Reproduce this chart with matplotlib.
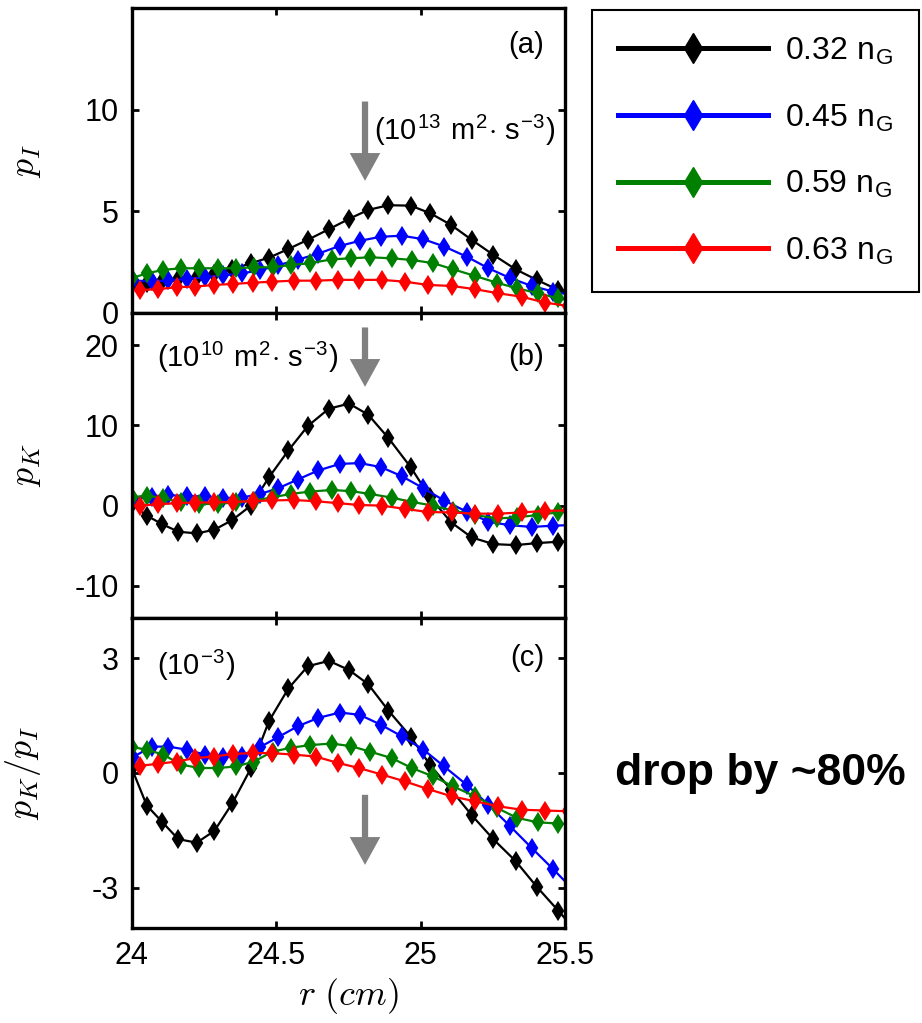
import matplotlib
matplotlib.use("Agg")
import matplotlib.pyplot as plt
from matplotlib.lines import Line2D

plt.rcParams['font.family'] = ['Liberation Sans', 'DejaVu Sans']
plt.rcParams['mathtext.fontset'] = 'cm'
plt.rcParams['axes.unicode_minus'] = False

# radial grid of each density scan (cm)
r_032 = [24.001, 24.053, 24.105, 24.162, 24.226, 24.287, 24.349, 24.413, 24.476, 24.543, 24.610, 24.683,
         24.753, 24.819, 24.889, 24.966, 25.033, 25.106, 25.177, 25.252, 25.329, 25.402, 25.477, 25.552]
r_045 = [24.006, 24.070, 24.127, 24.191, 24.254, 24.318, 24.381, 24.445, 24.508, 24.575, 24.646, 24.721,
         24.790, 24.863, 24.935, 25.010, 25.082, 25.160, 25.235, 25.310, 25.385, 25.460, 25.535]
r_059 = [24.000, 24.053, 24.110, 24.171, 24.235, 24.298, 24.361, 24.424, 24.488, 24.552, 24.618, 24.693,
         24.760, 24.825, 24.900, 24.970, 25.044, 25.113, 25.189, 25.264, 25.333, 25.406, 25.477, 25.552]
r_063 = [23.960, 24.029, 24.093, 24.156, 24.220, 24.285, 24.352, 24.420, 24.485, 24.562, 24.637, 24.716,
         24.787, 24.866, 24.946, 25.026, 25.108, 25.189, 25.269, 25.350, 25.431, 25.510]

# p_I (1e13 m^2 s^-3)
pI_032 = [1.45, 1.5, 1.55, 1.65, 1.75, 1.9, 2.15, 2.45, 2.72, 3.15, 3.6, 4.12,
          4.63, 5.07, 5.3, 5.28, 4.91, 4.33, 3.60, 2.86, 2.15, 1.63, 1.13, 0.7]
pI_045 = [1.6, 1.55, 1.6, 1.68, 1.76, 1.85, 1.95, 2.1, 2.35, 2.62, 2.92, 3.3,
          3.55, 3.75, 3.8, 3.63, 3.27, 2.77, 2.2, 1.72, 1.33, 1.05, 0.85]
pI_059 = [1.71, 1.95, 2.12, 2.2, 2.2, 2.2, 2.2, 2.25, 2.25, 2.36, 2.45, 2.64,
          2.69, 2.74, 2.69, 2.61, 2.45, 2.15, 1.82, 1.49, 1.22, 0.97, 0.72, 0.5]
pI_063 = [1.1, 1.13, 1.17, 1.27, 1.30, 1.38, 1.43, 1.49, 1.54, 1.59, 1.59,
          1.63, 1.63, 1.63, 1.54, 1.38, 1.33, 1.17, 0.97, 0.80, 0.51, 0.35]

# p_K (1e10 m^2 s^-3)
pK_032 = [0.21, -1.25, -2.29, -3.25, -3.46, -3.0, -1.79, 0.0, 3.54, 6.88, 9.92, 12.08,
          12.71, 11.33, 8.42, 4.79, 1.04, -2.08, -3.96, -4.79, -4.92, -4.67, -4.5, -4.3]
pK_045 = [0.8, 1.1, 1.3, 1.2, 1.15, 0.95, 1.0, 1.45, 2.17, 3.25, 4.38, 5.2,
          5.3, 4.8, 3.67, 2.17, 0.63, -0.75, -2.0, -2.45, -2.65, -2.5, -2.4]
pK_059 = [1.04, 1.25, 0.92, 0.42, 0.21, 0.21, 0.42, 0.63, 1.04, 1.46, 1.75, 1.95,
          1.8, 1.46, 1.0, 0.46, 0.0, -0.63, -1.17, -1.6, -1.46, -1.17, -0.83, -0.6]
pK_063 = [0.0, 0.0, 0.18, 0.3, 0.38, 0.4, 0.46, 0.56, 0.65, 0.7, 0.55,
          0.3, 0.08, 0.0, -0.4, -0.8, -0.85, -1.0, -1.0, -0.85, -0.65, -0.6]

# p_K / p_I (1e-3)
ratio_032 = [0.12, -0.85, -1.27, -1.73, -1.82, -1.51, -0.79, 0.12, 1.36, 2.21, 2.79, 2.93,
             2.69, 2.32, 1.63, 0.95, 0.21, -0.44, -1.10, -1.73, -2.30, -2.97, -3.60, -4.25]
ratio_045 = [0.42, 0.69, 0.69, 0.61, 0.48, 0.42, 0.45, 0.68, 0.94, 1.22, 1.44, 1.58,
             1.52, 1.26, 0.96, 0.61, 0.17, -0.31, -0.83, -1.39, -1.96, -2.52, -3.1]
ratio_059 = [0.68, 0.61, 0.48, 0.22, 0.13, 0.13, 0.17, 0.30, 0.56, 0.66, 0.73, 0.77,
             0.70, 0.56, 0.39, 0.13, -0.09, -0.35, -0.61, -0.91, -1.17, -1.29, -1.32, -1.35]
ratio_063 = [0.15, 0.19, 0.24, 0.30, 0.39, 0.43, 0.50, 0.52, 0.52, 0.48, 0.43,
             0.26, 0.13, -0.04, -0.22, -0.42, -0.61, -0.74, -0.87, -0.96, -0.98, -1.0]

labels = ['0.32', '0.45', '0.59', '0.63']
colors = ['k', '#0000ff', '#008000', '#ff0000']
radii = [r_032, r_045, r_059, r_063]
panels = [
    dict(ys=[pI_032, pI_045, pI_059, pI_063], ylim=(0, 15), ticks=[0, 5, 10],
         ylabel=r'$p_I$', tag='(a)', unit=r'(10$^{\mathregular{13}}$ m$^{\mathregular{2}}$$\cdot$ s$^{\mathregular{-3}}$)',
         unit_xy=(0.560, 0.60), tag_y=0.879, arrow=((24.808, 10.4), (24.808, 6.5))),
    dict(ys=[pK_032, pK_045, pK_059, pK_063], ylim=(-14, 24), ticks=[-10, 0, 10, 20],
         ylabel=r'$p_K$', tag='(b)', unit=r'(10$^{\mathregular{10}}$ m$^{\mathregular{2}}$$\cdot$ s$^{\mathregular{-3}}$)',
         unit_xy=(0.058, 0.856), tag_y=0.856, arrow=((24.808, 22.2), (24.808, 14.8))),
    dict(ys=[ratio_032, ratio_045, ratio_059, ratio_063], ylim=(-4.05, 4.05), ticks=[-3, 0, 3],
         ylabel=r'$p_K/p_I$', tag='(c)', unit=r'(10$^{\mathregular{-3}}$)',
         unit_xy=(0.058, 0.848), tag_y=0.871, arrow=((24.808, -0.57), (24.808, -2.4))),
]

fig = plt.figure(figsize=(9.22, 10.23), dpi=100)
left, width = 131.5 / 922, 433.5 / 922
boxes = [(8, 313), (313, 618), (618, 928)]

for k, (p, (top, bot)) in enumerate(zip(panels, boxes)):
    ax = fig.add_axes([left, 1 - bot / 1023, width, (bot - top) / 1023])
    for r, y, c in zip(radii, p['ys'], colors):
        ax.plot(r, y, color=c, lw=1.6, marker='d', ms=8.5, mew=1.6, mec=c, mfc=c)
    ax.set_xlim(24, 25.5)
    ax.set_ylim(*p['ylim'])
    ax.set_yticks(p['ticks'])
    ax.set_xticks([24, 24.5, 25, 25.5])
    ax.set_xticklabels(['24', '24.5', '25', '25.5'] if k == 2 else [])
    ax.tick_params(direction='in', length=5, width=2, top=True, right=True,
                   labelsize=22, pad=9)
    for s in ax.spines.values():
        s.set_linewidth(2.4)
    ax.set_ylabel(p['ylabel'], fontsize=26)
    ax.yaxis.set_label_coords(-0.205, 0.5)
    ax.text(0.952, p['tag_y'], p['tag'], transform=ax.transAxes, ha='right', va='center', fontsize=21)
    ax.text(*p['unit_xy'], p['unit'], transform=ax.transAxes, ha='left', va='center', fontsize=21)
    tail, tip = p['arrow']
    ax.annotate('', xy=tip, xytext=tail,
                arrowprops=dict(facecolor='#808080', edgecolor='none', width=4.5, headwidth=22, headlength=20, shrink=0))
    if k == 2:
        ax.set_xlabel(r'$r\ (cm)$', fontsize=26, labelpad=4)

handles = [Line2D([], [], color=c, lw=3.6, marker='d', ms=15, mec=c, mfc=c) for c in colors]
leg = fig.legend(handles, [l + r' n$_{\mathregular{G}}$' for l in labels],
                 loc='upper left', bbox_to_anchor=(592 / 922, 1 - 10 / 1023), fontsize=23,
                 frameon=True, fancybox=False, edgecolor='k', framealpha=1,
                 handlelength=4.7, handletextpad=0.55, labelspacing=1.1, borderpad=0.8,
                 borderaxespad=0)
leg.get_frame().set_linewidth(1.5)

fig.text(615 / 922, 1 - 773 / 1023, 'drop by ~80%', fontsize=32, fontweight='bold', ha='left', va='center')

fig.savefig('out.png', dpi=100)
